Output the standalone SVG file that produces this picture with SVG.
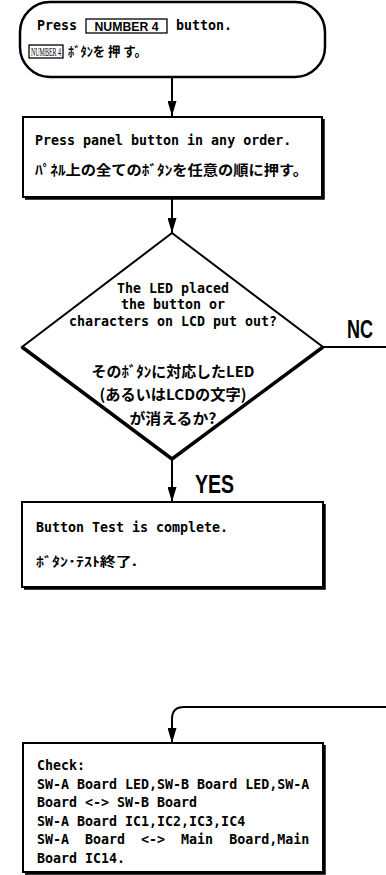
<svg xmlns="http://www.w3.org/2000/svg" width="386" height="875" viewBox="0 0 386 875">
<style>
.bg{fill:#fff}
.box{fill:#fff;stroke:#000;stroke-width:2}
.sh{fill:none;stroke:#000;stroke-width:2.5}
.en{font-family:"DejaVu Sans Mono","Liberation Mono",monospace;font-weight:bold;font-size:13.3px;fill:#000}
.jp{font-family:"Noto Sans CJK JP","Noto Sans",sans-serif;font-weight:bold;font-size:13px;fill:#000}
.kb{fill:#fff;stroke:#000;stroke-width:1.3}
.kt{font-family:"Liberation Sans","DejaVu Sans",sans-serif;font-weight:bold;font-size:12px;fill:#000}
.big{font-family:"Liberation Sans","DejaVu Sans",sans-serif;font-weight:bold;font-size:26px;fill:#000}
.ln{fill:none;stroke:#000;stroke-width:2}
</style>
<defs>
<marker id="ah" viewBox="0 0 15 9" markerWidth="15" markerHeight="9" refX="15" refY="4.5" orient="auto" markerUnits="userSpaceOnUse">
<path d="M0,0 L15,4.5 L0,9 z" fill="#000"/>
</marker>
</defs>
<rect class="bg" x="0" y="0" width="386" height="875"/>

<g id="connectors">
<path class="ln" d="M172,78 V116" marker-end="url(#ah)"/>
<path class="ln" d="M172,199 V233" marker-end="url(#ah)"/>
<path class="ln" d="M172,459 V502" marker-end="url(#ah)"/>
<path class="ln" d="M323,347 H386"/>
<path class="ln" d="M386,707 H184 Q172,707 172,719 V743" marker-end="url(#ah)"/>
<text class="big" x="347" y="338" textLength="26" lengthAdjust="spacingAndGlyphs">NC</text>
<text class="big" x="195" y="493" textLength="39" lengthAdjust="spacingAndGlyphs">YES</text>
</g>

<g id="start">
<rect class="box" x="20" y="2" width="305" height="75" rx="30" ry="30" style="stroke-width:2.5"/>
<text class="en" x="37" y="30">Press</text>
<rect class="kb" x="86" y="19" width="81" height="14"/>
<text class="kt" x="126.5" y="30.5" text-anchor="middle" textLength="64" lengthAdjust="spacingAndGlyphs">NUMBER 4</text>
<text class="en" x="176" y="30">button.</text>
<rect class="kb" x="29" y="45" width="34" height="13"/>
<text class="kt" transform="scale(0.46,1)" x="100" y="56.5" text-anchor="middle" style="font-weight:normal;font-size:13px;font-family:'Liberation Serif',serif">NUMBER 4</text>
<text class="jp" x="68" y="56" textLength="79" lengthAdjust="spacingAndGlyphs" xml:space="preserve">ﾎﾞﾀﾝを 押 す。</text>
</g>

<g id="press-panel">
<rect class="box" x="23" y="117" width="299" height="80"/>
<path class="sh" d="M323.5,119 V198.5 H25"/>
<text class="en" x="35" y="145">Press panel button in any order.</text>
<text class="jp" x="35" y="175" textLength="273" lengthAdjust="spacingAndGlyphs" style="font-size:14px">ﾊﾟﾈﾙ上の全てのﾎﾞﾀﾝを任意の順に押す。</text>
</g>

<g id="decision">
<polygon points="172,233 323,347 172,459 22,347" fill="#fff" stroke="#000" stroke-width="2"/>
<path d="M323,347 L172,459 L22,347" fill="none" stroke="#000" stroke-width="3.5"/>
<text class="en" x="173" y="293" text-anchor="middle">The LED placed</text>
<text class="en" x="173" y="309" text-anchor="middle">the button or</text>
<text class="en" x="173" y="326" text-anchor="middle">characters on LCD put out?</text>
<text class="jp" x="173" y="377" text-anchor="middle" textLength="163" lengthAdjust="spacingAndGlyphs" style="font-size:15px">そのﾎﾞﾀﾝに対応したLED</text>
<text class="jp" x="173" y="400" text-anchor="middle" textLength="147" lengthAdjust="spacingAndGlyphs" style="font-size:15px">(あるいはLCDの文字)</text>
<text class="jp" x="173" y="424" text-anchor="middle" textLength="87" lengthAdjust="spacingAndGlyphs" style="font-size:15px">が消えるか?</text>
</g>

<g id="complete">
<rect class="box" x="22" y="502" width="301" height="85"/>
<path class="sh" d="M324.5,504 V588.5 H24"/>
<text class="en" x="36" y="532">Button Test is complete.</text>
<text class="jp" x="36" y="566" textLength="101" lengthAdjust="spacingAndGlyphs">ﾎﾞﾀﾝ･ﾃｽﾄ終了.</text>
</g>

<g id="check">
<rect class="box" x="23" y="743" width="300" height="129"/>
<path class="sh" d="M324.5,745 V873.5 H25"/>
<text class="en" x="37" y="770">Check:</text>
<text class="en" x="37" y="789">SW-A Board LED,SW-B Board LED,SW-A</text>
<text class="en" x="37" y="807">Board &lt;-&gt; SW-B Board</text>
<text class="en" x="37" y="826">SW-A Board IC1,IC2,IC3,IC4</text>
<text class="en" x="37" y="844" xml:space="preserve">SW-A  Board  &lt;-&gt;  Main  Board,Main</text>
<text class="en" x="37" y="863">Board IC14.</text>
</g>
</svg>
